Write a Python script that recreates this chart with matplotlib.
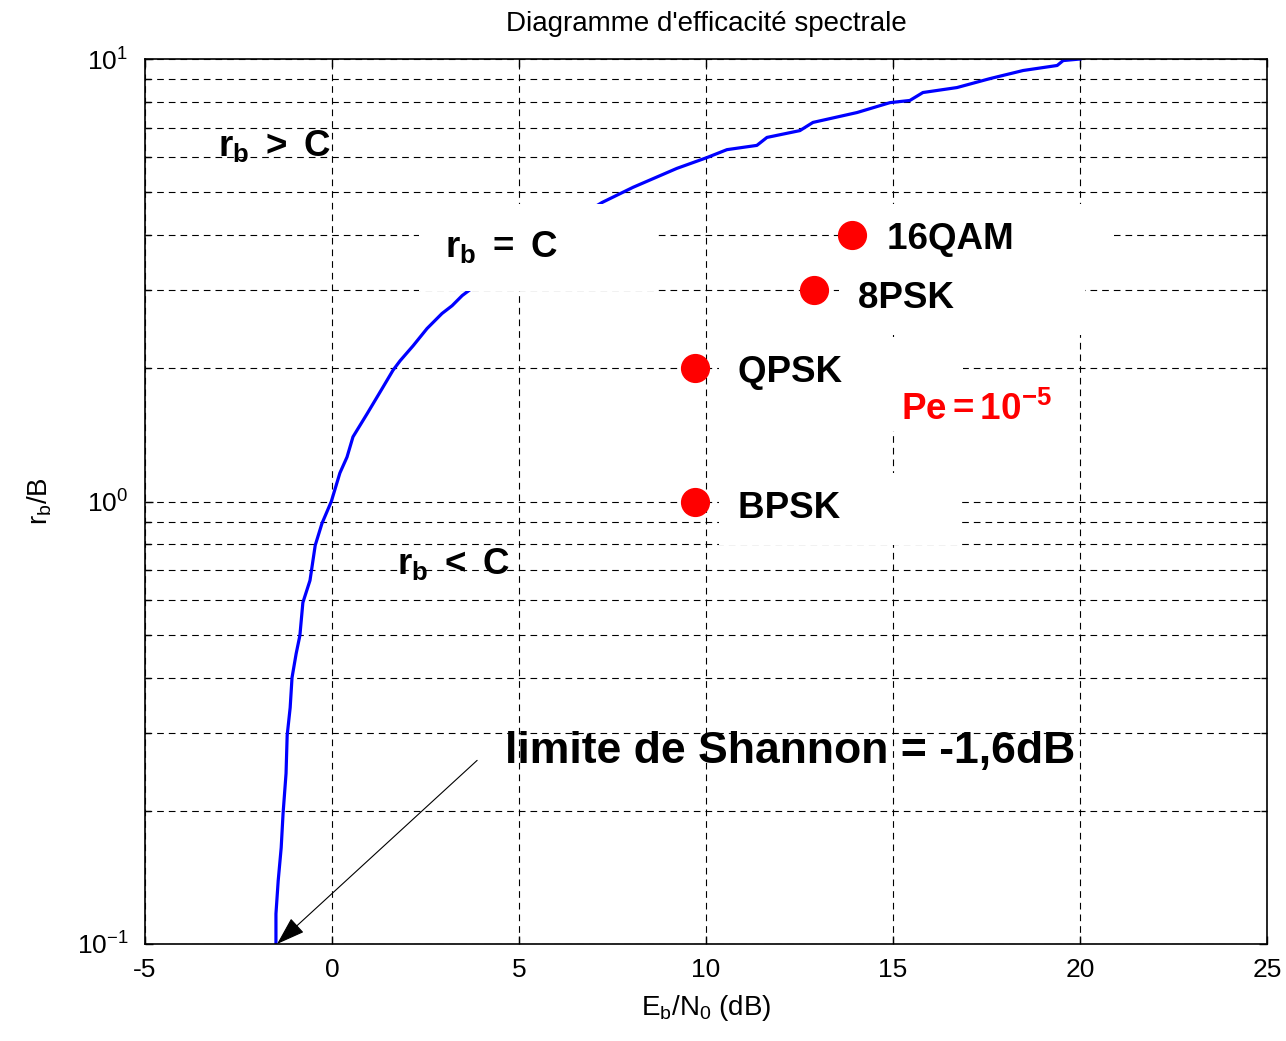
import matplotlib.pyplot as plt
from matplotlib.ticker import LogLocator, NullFormatter, NullLocator

plt.rcParams['font.family'] = 'Liberation Sans'
plt.rcParams['mathtext.fontset'] = 'custom'
plt.rcParams['mathtext.rm'] = 'Liberation Sans'
plt.rcParams['mathtext.it'] = 'Liberation Sans'
plt.rcParams['mathtext.bf'] = 'Liberation Sans:bold'
plt.rcParams['axes.unicode_minus'] = False

# Shannon bound: Eb/N0 (dB) vs spectral efficiency rb/B
ebn0_db = [-1.50, -1.50, -1.44, -1.36, -1.31, -1.23, -1.20, -1.12, -1.07, -0.96,
           -0.86, -0.78, -0.59, -0.45, -0.27, -0.02, 0.21, 0.40, 0.56, 0.94,
           1.34, 1.63, 1.82, 2.17, 2.54, 2.94, 3.21, 3.48, 5.10, 7.22,
           8.05, 9.22, 10.03, 10.56, 11.36, 11.63, 12.51, 12.86, 14.04, 14.92,
           15.45, 15.80, 16.71, 17.59, 18.48, 19.39, 19.55, 20.0]
rb_over_b = [0.100, 0.117, 0.139, 0.165, 0.197, 0.243, 0.296, 0.342, 0.400, 0.453,
             0.498, 0.591, 0.663, 0.796, 0.892, 1.00, 1.16, 1.26, 1.40, 1.58,
             1.80, 1.98, 2.08, 2.25, 2.46, 2.66, 2.77, 2.92, 3.70, 4.74,
             5.13, 5.66, 5.99, 6.24, 6.38, 6.65, 6.89, 7.19, 7.57, 7.97,
             8.06, 8.40, 8.62, 9.03, 9.42, 9.67, 9.92, 10.0]

# modulations at Pe = 1e-5
modulations = ['BPSK', 'QPSK', '8PSK', '16QAM']
mod_ebn0_db = [9.7, 9.7, 12.9, 13.9]
mod_eff = [1, 2, 3, 4]
label_offsets = [(31, -12), (31, -10), (31, -13), (25, -10)]
label_spaces = [10, 10, 11, 8]

fig = plt.figure(figsize=(12.86, 10.41), dpi=100)
ax = fig.add_axes([0.1128, 0.0932, 0.8724, 0.8501])

ax.plot(ebn0_db, rb_over_b, color='blue', lw=2.3, zorder=2)
ax.plot(mod_ebn0_db, mod_eff, 'o', color='red', ms=20, mec='red', zorder=4, ls='none')

box = dict(facecolor='white', edgecolor='none', boxstyle='square,pad=0.5')
for name, x, y, off, nsp in zip(modulations, mod_ebn0_db, mod_eff, label_offsets, label_spaces):
    ax.annotate(name + ' ' * nsp, (x, y), xytext=off, textcoords='offset points',
                fontsize=26.5, fontweight='bold', va='baseline', ha='left',
                bbox=box, zorder=3)

ax.text(-3.05, 6.05, r'$\mathbf{r_b\ >\ C}$', fontsize=26.5, va='baseline', ha='left')
ax.text(3.02, 3.56, r'$\mathbf{r_b\ =\ C}$' + ' ' * 8, fontsize=26.5,
        fontweight='bold', va='baseline', ha='left',
        bbox=dict(facecolor='white', edgecolor='none', boxstyle='square,pad=0.7'),
        zorder=3)
ax.text(1.74, 0.687, r'$\mathbf{r_b\ <\ C}$', fontsize=26.5, va='baseline', ha='left')
ax.text(14.95, 1.53, r'$\mathbf{\ Pe = 10^{-5}}$', fontsize=26.5, color='red',
        va='baseline', ha='left',
        bbox=dict(facecolor='white', edgecolor='none', boxstyle='square,pad=0.1'), zorder=3)
ax.text(4.63, 0.257, 'limite de Shannon = -1,6dB', fontsize=32, fontweight='bold',
        va='baseline', ha='left')

ax.annotate('', xy=(-1.47, 0.1), xytext=(3.88, 0.26),
            arrowprops=dict(arrowstyle='-|>,head_length=0.9,head_width=0.3',
                            color='black', lw=0.8, mutation_scale=20,
                            shrinkA=0, shrinkB=0))

ax.set_xlim(-5, 25)
ax.set_yscale('log')
ax.set_ylim(0.1, 10)
ax.set_xticks(range(-5, 26, 5))
ax.xaxis.set_minor_locator(NullLocator())
ax.yaxis.set_minor_locator(LogLocator(base=10, subs=range(2, 10)))
ax.yaxis.set_minor_formatter(NullFormatter())

dash = (0, (6, 4.5))
ax.grid(True, which='major', ls=dash, color='black', lw=0.8)
ax.grid(True, which='minor', axis='y', ls=dash, color='black', lw=0.8)

ax.tick_params(which='both', direction='in', top=True, right=True, labelsize=19)
ax.tick_params(which='major', length=6, width=1)
ax.tick_params(which='minor', length=4, width=1)
ax.tick_params(axis='x', pad=10)
ax.tick_params(axis='y', pad=12)
for s in ax.spines.values():
    s.set_linewidth(1.2)

ax.set_title("Diagramme d'efficacité spectrale", fontsize=20, pad=20)
ax.set_xlabel(r'$\mathregular{E_b/N_0}$ (dB)', fontsize=20, labelpad=8)
ax.set_ylabel(r'$\mathregular{r_b/B}$', fontsize=20, labelpad=16)

fig.savefig('out.png', dpi=100)
